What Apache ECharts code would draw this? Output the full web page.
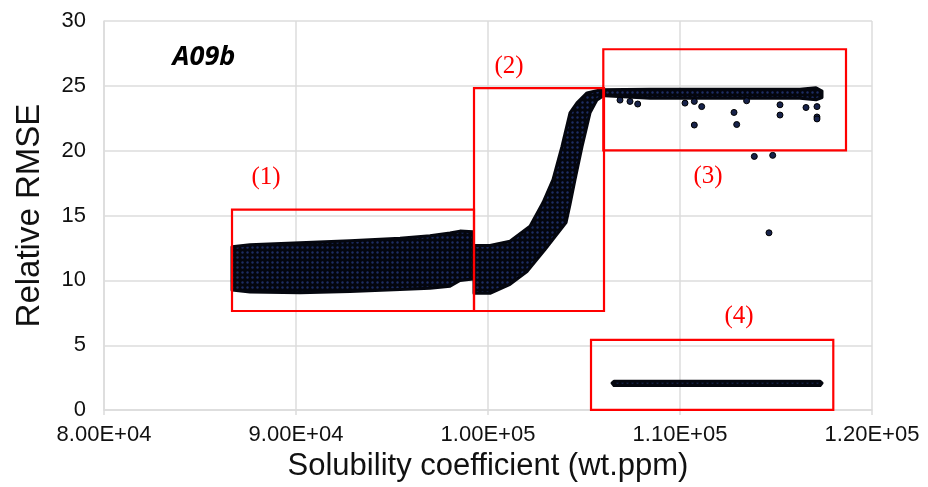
<!DOCTYPE html>
<html><head><meta charset="utf-8">
<script src="https://cdn.jsdelivr.net/npm/echarts@6/dist/echarts.min.js"></script>
<style>html,body{margin:0;padding:0;background:#fff}#c{width:928px;height:487px}</style>
</head><body><div id="c"></div>
<script>
// ---- axis ticks ----
const xTicks = [80000, 90000, 100000, 110000, 120000];
const xTickLabels = ['8.00E+04', '9.00E+04', '1.00E+05', '1.10E+05', '1.20E+05'];

// ---- region (1): dense band, upper and lower envelope ----
const band1X   = [86667, 87604, 90208, 92813, 95417, 96979, 98021, 98542, 99219];
const band1Top = [12.6, 12.75, 12.9, 13.05, 13.25, 13.45, 13.65, 13.8, 13.75];
const band1Bot = [9.25, 9.1, 9.05, 9.15, 9.3, 9.4, 9.55, 10.0, 10.1];

// ---- region (2): rising band ----
const band2TopX = [99271, 100104, 101146, 102188, 102865, 103385, 103854, 104271, 104635, 105156, 105833];
const band2TopY = [12.69, 12.69, 13.02, 14.18, 16.0, 17.77, 20.33, 22.92, 23.69, 24.46, 24.69];
const band2BotX = [99271, 100104, 101146, 102031, 102969, 104063, 104271, 104531, 104896, 105313, 105677, 106094];
const band2BotY = [9.0, 9.0, 9.69, 10.69, 12.38, 14.46, 15.85, 17.77, 20.31, 22.92, 23.92, 24.31];

// ---- region (3): plateau band ----
const band3TopX = [105833, 108438, 111042, 113646, 116250, 117083, 117396];
const band3TopY = [24.69, 24.73, 24.73, 24.73, 24.73, 24.85, 24.6];
const band3BotX = [106094, 108438, 111042, 113646, 116250, 117083, 117396];
const band3BotY = [24.23, 24.05, 24.05, 24.05, 24.05, 23.92, 24.1];

// ---- region (3): scattered outliers ----
const outX = [106875, 107396, 107797, 110260, 110745, 111130, 110745, 112813, 112953, 113470, 113870, 114828, 114635, 115208, 115208, 116563, 117135, 117135, 117135];
const outY = [23.9, 23.8, 23.6, 23.67, 23.8, 23.4, 21.98, 22.95, 22.02, 23.85, 19.56, 19.64, 13.67, 23.54, 22.75, 23.33, 23.4, 22.6, 22.45];

// ---- region (4): thin line of points ----
const band4TopX = [106460, 106560, 111000, 117300, 117400];
const band4TopY = [2.08, 2.22, 2.22, 2.22, 2.08];
const band4BotX = [106460, 106560, 111000, 117300, 117400];
const band4BotY = [2.08, 1.9, 1.9, 1.9, 2.08];

// ---- red boxes [x1, y1, x2, y2] ----
const boxX1 = [86667, 99271, 106005, 105365];
const boxY1 = [15.46, 24.82, 27.82, 5.41];
const boxX2 = [99271, 106042, 118646, 117984];
const boxY2 = [7.64, 7.64, 20.02, 0.02];

// ---- box labels ----
const boxLabels = ['(1)', '(2)', '(3)', '(4)'];
const boxLabelX = [88438, 101094, 111458, 113073];
const boxLabelY = [17.92, 26.5, 18.0, 7.23];

const titleText = 'A09b';
const titleX = 85208, titleY = 27.23;

// texture for the dense bands
const tex = document.createElement('canvas');
tex.width = 5; tex.height = 5;
(function(){
  const g = tex.getContext('2d');
  g.fillStyle = '#04060e'; g.fillRect(0,0,5,5);
  g.fillStyle = '#1d2d63';
  g.beginPath(); g.arc(2.5,2.5,1.2,0,Math.PI*2); g.fill();
})();
const bandFill = {image: tex, repeat: 'repeat'};

function polyFrom(tx, ty, bx, by) {
  const pts = [];
  for (let i = 0; i < tx.length; i++) pts.push([tx[i], ty[i]]);
  for (let i = bx.length - 1; i >= 0; i--) pts.push([bx[i], by[i]]);
  return pts;
}
const bands = [
  polyFrom(band1X, band1Top, band1X, band1Bot),
  polyFrom(band2TopX, band2TopY, band2BotX, band2BotY),
  polyFrom(band3TopX, band3TopY, band3BotX, band3BotY),
  polyFrom(band4TopX, band4TopY, band4BotX, band4BotY)
];

const chart = echarts.init(document.getElementById('c'), null, {renderer: 'canvas'});
const gridColor = '#dcdcdc';
const font = 'Liberation Sans';

chart.setOption({
  animation: false,
  grid: {left: 104, right: 56, top: 21, bottom: 76},
  xAxis: {
    type: 'value', min: 80000, max: 120000, interval: 10000,
    axisLine: {show: true, lineStyle: {color: gridColor, width: 1.5}},
    axisTick: {show: true, length: 5, lineStyle: {color: gridColor, width: 1.5}},
    splitLine: {show: true, lineStyle: {color: gridColor, width: 1.5}},
    axisLabel: {
      fontSize: 22, color: '#111', fontFamily: font, margin: 14,
      formatter: v => { const i = xTicks.indexOf(v); return i >= 0 ? xTickLabels[i] : ''; }
    },
    name: 'Solubility coefficient (wt.ppm)', nameLocation: 'middle', nameGap: 38,
    nameTextStyle: {fontSize: 31, color: '#111', fontFamily: font}
  },
  yAxis: {
    type: 'value', min: 0, max: 30, interval: 5,
    axisLine: {show: true, lineStyle: {color: gridColor, width: 1.5}},
    axisTick: {show: false},
    splitLine: {show: true, lineStyle: {color: gridColor, width: 1.5}},
    axisLabel: {fontSize: 22, color: '#111', fontFamily: font, margin: 18},
    name: 'Relative RMSE', nameLocation: 'middle', nameGap: 58,
    nameTextStyle: {fontSize: 33, color: '#111', fontFamily: font}
  },
  series: [
    {
      type: 'custom',
      data: bands.map((b, i) => [i]),
      renderItem: function (params, api) {
        const pts = bands[api.value(0)].map(p => api.coord(p));
        return {
          type: 'polygon',
          shape: {points: pts},
          style: {fill: bandFill, stroke: '#05070f', lineWidth: 3, lineJoin: 'round'}
        };
      },
      z: 2
    },
    {
      type: 'scatter',
      data: outX.map((x, i) => [x, outY[i]]),
      symbolSize: 6,
      itemStyle: {color: '#17224a', borderColor: '#000', borderWidth: 1, opacity: 1},
      z: 3
    },
    {
      type: 'custom',
      data: boxX1.map((x, i) => [x, boxY1[i], boxX2[i], boxY2[i]]),
      renderItem: function (params, api) {
        const p1 = api.coord([api.value(0), api.value(1)]);
        const p2 = api.coord([api.value(2), api.value(3)]);
        return {
          type: 'rect',
          shape: {x: p1[0], y: p1[1], width: p2[0] - p1[0], height: p2[1] - p1[1]},
          style: {fill: 'none', stroke: '#ff0000', lineWidth: 2.2}
        };
      },
      z: 4
    },
    {
      type: 'custom',
      data: boxLabels.map((t, i) => [boxLabelX[i], boxLabelY[i], i]),
      renderItem: function (params, api) {
        const p = api.coord([api.value(0), api.value(1)]);
        return {
          type: 'text',
          style: {x: p[0], y: p[1], text: boxLabels[api.value(2)], fill: '#ff0000',
            font: '25px "Liberation Serif"', align: 'center', verticalAlign: 'middle'}
        };
      },
      z: 5
    },
    {
      type: 'custom',
      data: [[titleX, titleY]],
      renderItem: function (params, api) {
        const p = api.coord([api.value(0), api.value(1)]);
        return {
          type: 'text',
          style: {x: p[0], y: p[1], text: titleText, fill: '#000',
            font: 'italic bold 27px "Open Sans"', align: 'center', verticalAlign: 'middle'}
        };
      },
      z: 5
    }
  ]
});
</script>
</body></html>
